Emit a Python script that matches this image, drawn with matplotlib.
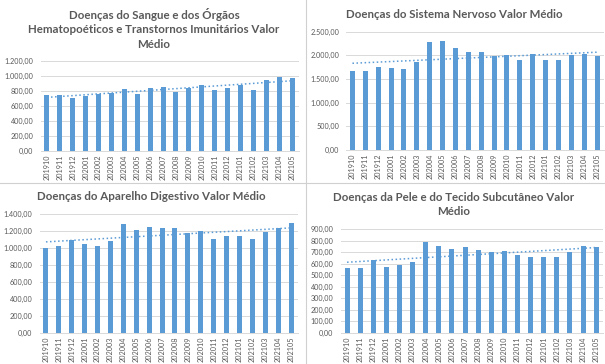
import numpy as np
import matplotlib.pyplot as plt
from matplotlib.ticker import FuncFormatter, MultipleLocator
from matplotlib.lines import Line2D

plt.rcParams["font.family"] = ["Lato", "DejaVu Sans"]

meses = ['201910', '201911', '201912', '202001', '202002', '202003', '202004',
         '202005', '202006', '202007', '202008', '202009', '202010', '202011',
         '202012', '202101', '202102', '202103', '202104', '202105']

sangue = [745, 745, 705, 730, 760, 775, 830, 760, 845, 855,
          785, 845, 875, 820, 835, 880, 820, 945, 990, 970]
nervoso = [1676, 1676, 1760, 1725, 1710, 1860, 2290, 2300, 2155, 2070,
           2070, 1980, 2000, 1900, 2020, 1900, 1900, 2000, 2020, 1985]
digestivo = [1000, 1030, 1095, 1050, 1030, 1090, 1280, 1215, 1255, 1240,
             1240, 1180, 1205, 1110, 1140, 1140, 1105, 1195, 1235, 1300]
pele = [563, 560, 635, 575, 592, 618, 790, 752, 728, 742,
        716, 705, 708, 680, 656, 662, 660, 703, 752, 750]

titulos = ['Doenças do Sangue e dos Órgãos\nHematopoéticos e Transtornos Imunitários Valor\nMédio',
           'Doenças do Sistema Nervoso Valor Médio',
           'Doenças do Aparelho Digestivo Valor Médio',
           'Doenças da Pele e do Tecido Subcutâneo Valor\nMédio']

W, H = 605, 364
azul = '#5b9bd5'
cinza = '#595959'


def br(v, pos):
    s = '{:,.2f}'.format(v)
    return s.replace(',', 'X').replace('.', ',').replace('X', '.')


# pixel boxes: left, right, top, bottom (from top of image)
caixas = [(40.5, 298.5, 61, 151),
          (346, 603.5, 31.7, 150),
          (39.5, 297.5, 214.3, 332.7),
          (340.5, 602.7, 229.3, 332.7)]
ylims = [(1200, 200), (2500, 500), (1400, 200), (900, 100)]
tit_y = [28.7, 14, 197, 204.5]
tit_x = [154, 454, 151, 454]
dados = [sangue, nervoso, digestivo, pele]

fig = plt.figure(figsize=(W / 100, H / 100), dpi=100)

for i in range(4):
    l, r, t, b = caixas[i]
    ax = fig.add_axes([l / W, 1 - b / H, (r - l) / W, (b - t) / H])
    x = np.arange(len(meses))
    v = np.array(dados[i])
    ax.bar(x, v, width=0.38, color=azul, zorder=2)
    k = np.polyfit(x, v, 1)
    ax.plot(x, np.polyval(k, x), ':', color=azul, lw=1.1, zorder=3)
    ax.set_xlim(-0.5, len(meses) - 0.5)
    ax.set_ylim(0, ylims[i][0])
    ax.yaxis.set_major_locator(MultipleLocator(ylims[i][1]))
    ax.yaxis.set_major_formatter(FuncFormatter(br))
    ax.set_xticks(x)
    ax.set_xticklabels(meses, rotation=90)
    ax.tick_params(axis='both', length=0, labelsize=5.2, colors=cinza)
    ax.tick_params(axis='y', pad=5)
    ax.tick_params(axis='x', pad=2.5)
    ax.grid(axis='y', color='#d9d9d9', lw=0.7, zorder=0)
    for s in ['top', 'right', 'left']:
        ax.spines[s].set_visible(False)
    ax.spines['bottom'].set_color('#d9d9d9')
    ax.spines['bottom'].set_linewidth(0.7)
    fig.text(tit_x[i] / W, 1 - tit_y[i] / H, titulos[i], ha='center', va='center',
             fontsize=8.3, fontweight='bold', color=cinza, linespacing=1.4)

# bordas entre os graficos
fig.add_artist(Line2D([306 / W, 306 / W], [0, 1], color='#d0d0d0', lw=0.8))
fig.add_artist(Line2D([0, 1], [1 - 183 / H, 1 - 183 / H], color='#d0d0d0', lw=0.8))

fig.savefig('out.png', dpi=100)
